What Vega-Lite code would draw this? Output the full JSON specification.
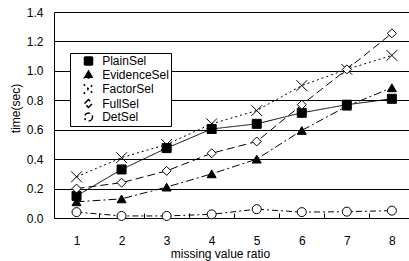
{
  "$schema": "https://vega.github.io/schema/vega-lite/v6.json",
  "autosize": "none",
  "width": 355,
  "height": 206,
  "padding": {"left": 54, "top": 12, "right": 0, "bottom": 43},
  "background": "white",
  "config": {
    "view": {"stroke": null},
    "font": "Liberation Sans",
    "axis": {"labelFont": "Liberation Sans", "titleFont": "Liberation Sans", "labelColor": "black", "titleColor": "black", "labelFontSize": 12, "titleFontSize": 12, "titleFontWeight": "normal", "domainColor": "black", "tickColor": "black"},
    "legend": {"labelFont": "Liberation Sans", "labelFontSize": 12, "labelColor": "black"}
  },
  "data": {
    "values": [
      {"series": "PlainSel", "ratio": 1, "time": 0.15},
      {"series": "PlainSel", "ratio": 2, "time": 0.33},
      {"series": "PlainSel", "ratio": 3, "time": 0.475},
      {"series": "PlainSel", "ratio": 4, "time": 0.605},
      {"series": "PlainSel", "ratio": 5, "time": 0.64},
      {"series": "PlainSel", "ratio": 6, "time": 0.715},
      {"series": "PlainSel", "ratio": 7, "time": 0.77},
      {"series": "PlainSel", "ratio": 8, "time": 0.81},
      {"series": "EvidenceSel", "ratio": 1, "time": 0.11},
      {"series": "EvidenceSel", "ratio": 2, "time": 0.13},
      {"series": "EvidenceSel", "ratio": 3, "time": 0.21},
      {"series": "EvidenceSel", "ratio": 4, "time": 0.30},
      {"series": "EvidenceSel", "ratio": 5, "time": 0.40},
      {"series": "EvidenceSel", "ratio": 6, "time": 0.595},
      {"series": "EvidenceSel", "ratio": 7, "time": 0.76},
      {"series": "EvidenceSel", "ratio": 8, "time": 0.885},
      {"series": "FactorSel", "ratio": 1, "time": 0.28},
      {"series": "FactorSel", "ratio": 2, "time": 0.41},
      {"series": "FactorSel", "ratio": 3, "time": 0.50},
      {"series": "FactorSel", "ratio": 4, "time": 0.64},
      {"series": "FactorSel", "ratio": 5, "time": 0.73},
      {"series": "FactorSel", "ratio": 6, "time": 0.90},
      {"series": "FactorSel", "ratio": 7, "time": 1.01},
      {"series": "FactorSel", "ratio": 8, "time": 1.105},
      {"series": "FullSel", "ratio": 1, "time": 0.20},
      {"series": "FullSel", "ratio": 2, "time": 0.24},
      {"series": "FullSel", "ratio": 3, "time": 0.32},
      {"series": "FullSel", "ratio": 4, "time": 0.44},
      {"series": "FullSel", "ratio": 5, "time": 0.52},
      {"series": "FullSel", "ratio": 6, "time": 0.77},
      {"series": "FullSel", "ratio": 7, "time": 1.01},
      {"series": "FullSel", "ratio": 8, "time": 1.255},
      {"series": "DetSel", "ratio": 1, "time": 0.04},
      {"series": "DetSel", "ratio": 2, "time": 0.014},
      {"series": "DetSel", "ratio": 3, "time": 0.014},
      {"series": "DetSel", "ratio": 4, "time": 0.025},
      {"series": "DetSel", "ratio": 5, "time": 0.06},
      {"series": "DetSel", "ratio": 6, "time": 0.04},
      {"series": "DetSel", "ratio": 7, "time": 0.043},
      {"series": "DetSel", "ratio": 8, "time": 0.05}
    ]
  },
  "encoding": {
    "x": {
      "field": "ratio", "type": "quantitative",
      "scale": {"domain": [0.5, 8.38], "nice": false, "zero": false},
      "axis": {
        "values": [0.5, 1.5, 2.5, 3.5, 4.5, 5.5, 6.5, 7.5],
        "labelExpr": "format(datum.value + 0.5, 'd')",
        "labelOffset": 22.5,
        "labelFlush": false,
        "labelBound": false,
        "labelOverlap": false,
        "tickSize": -5,
        "labelPadding": 22,
        "grid": false,
        "title": "missing value ratio",
        "titleX": 166,
        "titlePadding": 2
      }
    },
    "y": {
      "field": "time", "type": "quantitative",
      "scale": {"domain": [0, 1.4], "nice": false},
      "axis": {
        "values": [0, 0.2, 0.4, 0.6, 0.8, 1.0, 1.2, 1.4],
        "format": ".1f",
        "ticks": false,
        "labelPadding": 11,
        "grid": true,
        "gridColor": "black",
        "gridOpacity": 1,
        "gridWidth": 1,
        "title": "time(sec)",
        "titlePadding": 4,
        "titleY": 96
      }
    }
  },
  "layer": [
    {
      "mark": {"type": "line", "color": "black", "strokeWidth": 1},
      "encoding": {
        "strokeDash": {
          "field": "series", "type": "nominal",
          "scale": {"domain": ["PlainSel", "EvidenceSel", "FactorSel", "FullSel", "DetSel"],
                    "range": [[1, 0], [8, 3, 2, 3], [2, 3], [8, 4], [6, 3, 2, 3]]},
          "legend": {
            "title": null,
            "orient": "none",
            "legendX": 16,
            "legendY": 41,
            "fillColor": "white",
            "strokeColor": "black",
            "padding": 2,
            "rowPadding": -0.5,
            "symbolSize": 64,
            "symbolOffset": 10.5,
            "labelOffset": 7.7
          }
        }
      }
    },
    {
      "mark": {"type": "point", "filled": true, "size": 81, "stroke": "black", "strokeWidth": 1, "opacity": 1},
      "encoding": {
        "shape": {
          "field": "series", "type": "nominal",
          "scale": {"domain": ["PlainSel", "EvidenceSel", "FactorSel", "FullSel", "DetSel"],
                    "range": ["square", "triangle-up", "M-1.2,-1.2L1.2,1.2M-1.2,1.2L1.2,-1.2", "diamond", "circle"]},
          "legend": null
        },
        "fill": {
          "field": "series", "type": "nominal",
          "scale": {"domain": ["PlainSel", "EvidenceSel", "FactorSel", "FullSel", "DetSel"],
                    "range": ["black", "black", "white", "white", "white"]},
          "legend": null
        }
      }
    }
  ]
}
